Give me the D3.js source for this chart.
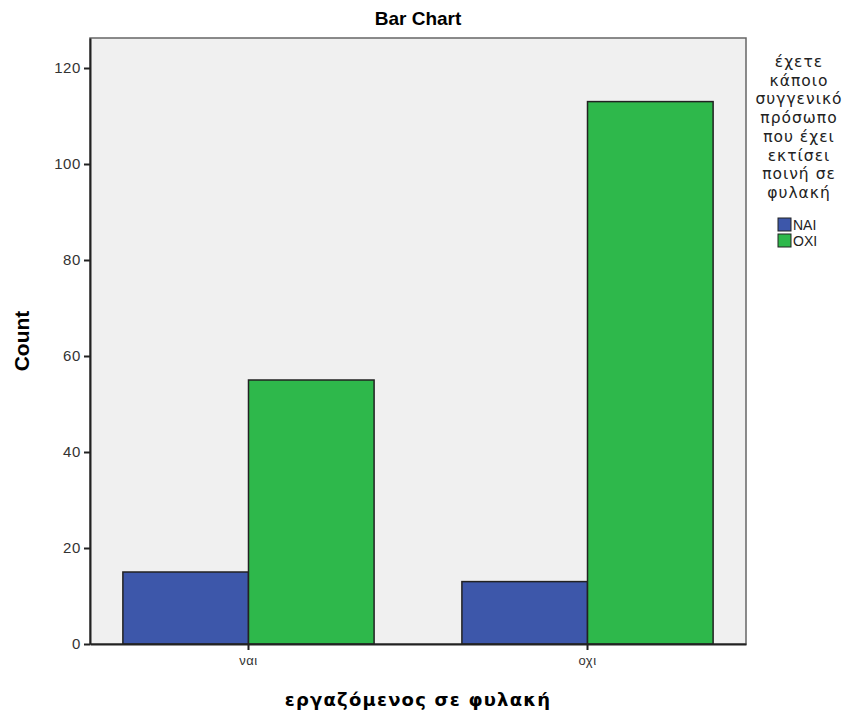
<!DOCTYPE html>
<html>
<head>
<meta charset="utf-8">
<script src="https://cdn.jsdelivr.net/npm/d3@7"></script>
<style>
  body { margin: 0; background: #fff; }
</style>
</head>
<body>
<svg id="chart" width="852" height="715"></svg>
<script>
// data
const categories = ["ναι", "οχι"];
const series = ["NAI", "OXI"];
const naiValues = [15, 13];
const oxiValues = [55, 113];
const yTicks = [0, 20, 40, 60, 80, 100, 120];
const legendTitle = ["έχετε", "κάποιο", "συγγενικό", "πρόσωπο", "που έχει", "εκτίσει", "ποινή σε", "φυλακή"];

const colors = { NAI: "#3d57aa", OXI: "#2eb84b" };
const sans = "'Liberation Sans', Arial, sans-serif";
const wide = "'DejaVu Sans', Verdana, sans-serif";

const margin = { top: 38, left: 90, right: 106, bottom: 71 };
const W = 852, H = 715;
const plotW = W - margin.left - margin.right,
  plotH = H - margin.top - margin.bottom;

const svg = d3.select("#chart");

const x0 = d3.scaleBand().domain(categories).range([margin.left, margin.left + plotW])
  .paddingInner(0.259).paddingOuter(0.097);
const x1 = d3.scaleBand().domain(series).range([0, x0.bandwidth()]);
const y = d3.scaleLinear().domain([0, 126.25]).range([margin.top + plotH, margin.top]);

// plot background
svg.append("rect")
  .attr("x", margin.left).attr("y", margin.top)
  .attr("width", plotW).attr("height", plotH)
  .attr("fill", "#f0f0f0").attr("stroke", "#666").attr("stroke-width", 1.5);

// bars
const rows = categories.map((c, i) => ({ cat: c, NAI: naiValues[i], OXI: oxiValues[i] }));
svg.append("g").selectAll("g").data(rows).join("g")
  .attr("transform", d => "translate(" + x0(d.cat) + ",0)")
  .selectAll("rect")
  .data(d => series.map(s => ({ key: s, value: d[s] })))
  .join("rect")
  .attr("x", d => x1(d.key))
  .attr("y", d => y(d.value))
  .attr("width", x1.bandwidth())
  .attr("height", d => y(0) - y(d.value))
  .attr("fill", d => colors[d.key])
  .attr("stroke", "#222").attr("stroke-width", 1.5);

// y axis
const axisY = svg.append("g")
  .attr("transform", "translate(" + margin.left + ",0)")
  .call(d3.axisLeft(y).tickValues(yTicks).tickSize(6).tickSizeOuter(0).tickPadding(3));
axisY.select(".domain").attr("stroke", "#222").attr("stroke-width", 2);
axisY.selectAll(".tick line").attr("stroke", "#222").attr("stroke-width", 2);
axisY.selectAll(".tick text")
  .style("font-family", sans).style("font-size", "15px").style("letter-spacing", "0.6px")
  .attr("fill", "#333");

// x axis
const axisX = svg.append("g")
  .attr("transform", "translate(0," + (margin.top + plotH) + ")")
  .call(d3.axisBottom(x0).tickSize(6).tickPadding(6).tickSizeOuter(0));
axisX.select(".domain").attr("stroke", "#222").attr("stroke-width", 2);
axisX.selectAll(".tick line").attr("stroke", "#222").attr("stroke-width", 2);
axisX.selectAll(".tick text")
  .style("font-family", sans).style("font-size", "13px").style("letter-spacing", "0.5px")
  .attr("fill", "#333");

// titles
svg.append("text")
  .attr("x", margin.left + plotW / 2).attr("y", 25)
  .attr("text-anchor", "middle")
  .style("font-family", sans).style("font-size", "19px").style("font-weight", "bold")
  .text("Bar Chart");

svg.append("text")
  .attr("transform", "translate(29,341) rotate(-90)")
  .attr("text-anchor", "middle")
  .style("font-family", sans).style("font-size", "21px").style("font-weight", "bold")
  .text("Count");

svg.append("text")
  .attr("x", margin.left + plotW / 2).attr("y", 706)
  .attr("text-anchor", "middle")
  .style("font-family", wide).style("font-size", "18px").style("font-weight", "bold")
  .style("letter-spacing", "1.2px")
  .text("εργαζόμενος σε φυλακή");

// legend
const legend = svg.append("g");
legend.selectAll("text.title").data(legendTitle).join("text")
  .attr("class", "title")
  .attr("x", 799).attr("y", (d, i) => 67 + i * 18.7)
  .attr("text-anchor", "middle").attr("fill", "#222")
  .style("font-family", wide).style("font-size", "15.5px").style("letter-spacing", "1px")
  .text(d => d);

const items = legend.selectAll("g.item").data(series).join("g")
  .attr("class", "item")
  .attr("transform", (d, i) => "translate(778," + (218 + i * 16) + ")");
items.append("rect")
  .attr("width", 13).attr("height", 13)
  .attr("fill", d => colors[d]).attr("stroke", "#222").attr("stroke-width", 1);
items.append("text")
  .attr("x", 15).attr("y", 12).attr("fill", "#222")
  .style("font-family", sans).style("font-size", "14px")
  .text(d => d);
</script>
</body>
</html>
